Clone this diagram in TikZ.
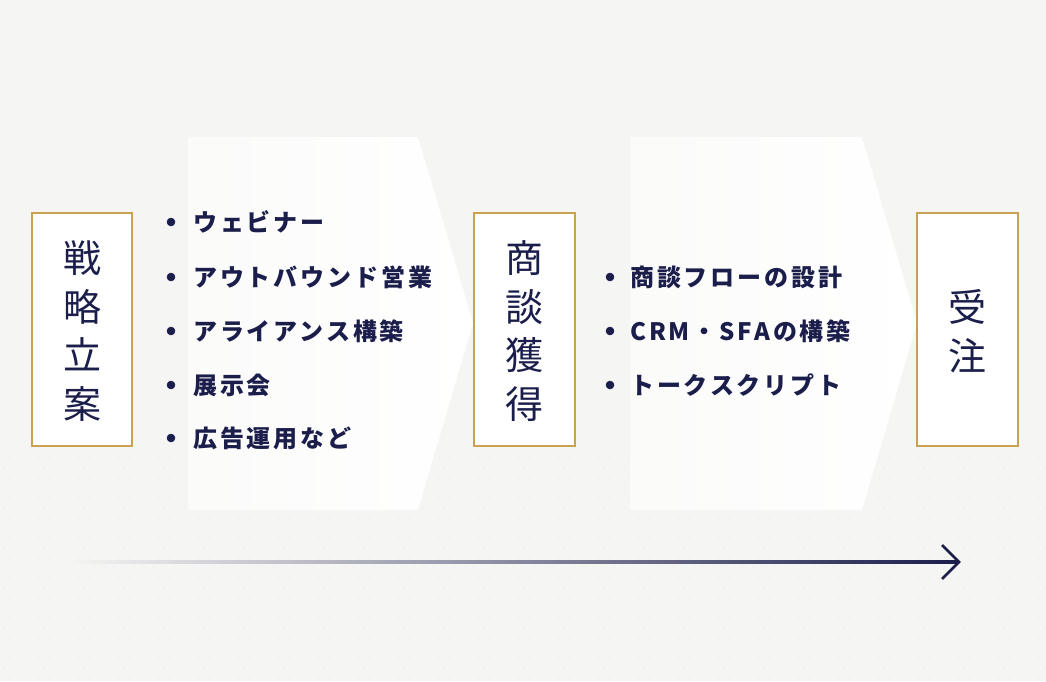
\documentclass[tikz,border=0pt]{standalone}
\usepackage{fontspec}
\newfontfamily\cjk{Noto Sans CJK JP}
\definecolor{bgcol}{HTML}{F5F5F3}
\definecolor{navy}{HTML}{1B1E4B}
\definecolor{gold}{HTML}{C9A24F}
\definecolor{dotcol}{HTML}{E3E3E0}
\tikzset{
  stagebox/.style={draw=gold, line width=2pt, fill=white},
  stagetitle/.style={text=navy, align=center, inner sep=0pt, font=\cjk\fontsize{38}{48.5}\selectfont},
  itemtext/.style={text=navy, anchor=west, inner sep=0pt, font=\cjk\bfseries\fontsize{24}{26}\selectfont\addfontfeature{LetterSpace=12}},
  bulletdot/.style={circle, fill=navy, draw=navy, line width=0.5pt, inner sep=0pt, minimum size=8pt},
  chev/.style={left color=white!55!bgcol, right color=white}
}
\begin{document}
\begin{tikzpicture}[x=1pt, y=-1pt]
\useasboundingbox (0,0) rectangle (1046,681);
\fill[bgcol] (0,0) rectangle (1046,681);
% dotted texture
\foreach \yy [count=\r] in {458,468,...,678}{
  \foreach \xx in {4,14,...,1044}{
    \fill[dotcol] ({\xx+mod(\r,2)*5},\yy) circle (0.7);
  }
}
% chevrons
\shade[chev] (188,137) -- (418,137) -- (473,323) -- (418,510) -- (188,510) -- cycle;
\shade[chev] (630,137) -- (862,137) -- (917,323) -- (862,510) -- (630,510) -- cycle;
% stage boxes
\draw[stagebox] (32,213) rectangle (132,446);
\draw[stagebox] (474,213) rectangle (575,446);
\draw[stagebox] (917,213) rectangle (1018,446);
\node[stagetitle] (s1) at (82,331) {戦\\略\\立\\案};
\node[stagetitle] (s2) at (524.5,331) {商\\談\\獲\\得};
\node[stagetitle] (s3) at (967.5,331) {受\\注};
% list 1
\node[bulletdot] (b11) at (171,222) {};
\node[itemtext] (t11) at (193,222) {ウェビナー};
\node[bulletdot] (b12) at (171,277) {};
\node[itemtext] (t12) at (193,277) {アウトバウンド営業};
\node[bulletdot] (b13) at (171,331) {};
\node[itemtext] (t13) at (193,331) {アライアンス構築};
\node[bulletdot] (b14) at (171,385) {};
\node[itemtext] (t14) at (193,385) {展示会};
\node[bulletdot] (b15) at (171,438) {};
\node[itemtext] (t15) at (193,438) {広告運用など};
% list 2
\node[bulletdot] (b21) at (610,277) {};
\node[itemtext] (t21) at (630,277) {商談フローの設計};
\node[bulletdot] (b22) at (610,331) {};
\node[itemtext] (t22) at (630,331) {CRM・SFAの構築};
\node[bulletdot] (b23) at (610,385) {};
\node[itemtext] (t23) at (630,385) {トークスクリプト};
% time arrow
\coordinate (arrS) at (70,562);
\coordinate (arrE) at (959,562);
\shade[left color=bgcol, right color=navy] ([yshift=-1.3pt]arrS) rectangle ([yshift=1.3pt]arrE);
\draw[navy, line width=2.6pt, line join=miter] ([shift={(-17,-17)}]arrE) -- (arrE) -- ([shift={(-17,17)}]arrE);
\end{tikzpicture}
\end{document}
